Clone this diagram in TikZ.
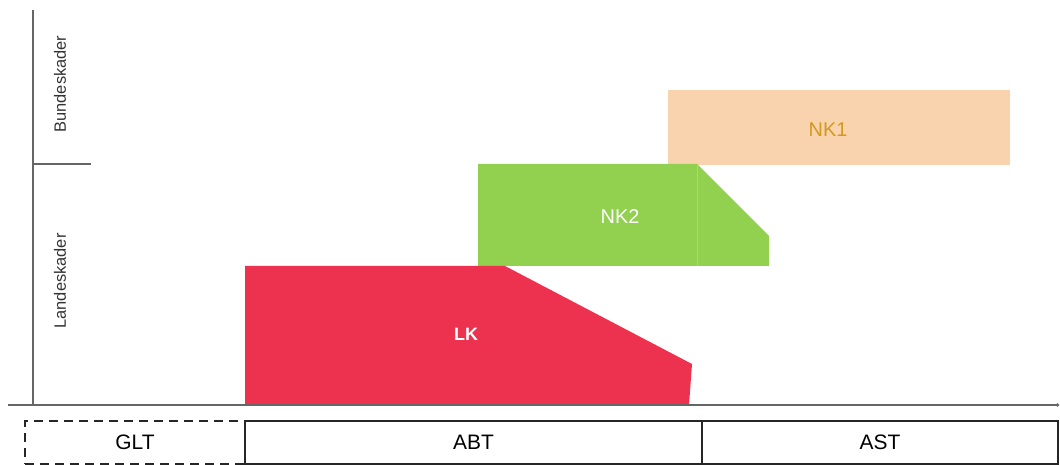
\documentclass[tikz,border=0pt]{standalone}
\usepackage{fontspec}
\setmainfont{Liberation Sans}
\usetikzlibrary{arrows.meta}
\definecolor{nkone}{HTML}{F8D3AE}
\definecolor{nkonetext}{HTML}{D19A1E}
\definecolor{nktwo}{HTML}{92D050}
\definecolor{lkred}{HTML}{EC324E}
\definecolor{axisgray}{HTML}{666666}
\tikzset{
  axis/.style={draw=axisgray, line width=1.3bp},
  phase/.style={draw=black!85, line width=1.6bp, minimum height=43bp, inner sep=0pt, font=\fontsize{21}{24}\selectfont},
  axlabel/.style={rotate=90, font=\fontsize{16.5}{19}\selectfont, text=black!80},
}
\begin{document}
\begin{tikzpicture}[x=1bp,y=-1bp]
\useasboundingbox (0,0) rectangle (1060,465);
% shapes
\fill[nkone] (668,90) rectangle (1010,165);
\node[text=nkonetext, font=\fontsize{20}{24}\selectfont] (nk1) at (828,130) {NK1};
\fill[nktwo] (478,164) -- (697,164) -- (769,236) -- (769,266) -- (478,266) -- cycle;
\draw[nktwo!80!white, line width=0.6bp] (697,165) -- (697,266);
\node[text=white, font=\fontsize{20}{24}\selectfont] (nk2) at (620,217) {NK2};
\fill[lkred] (245,266) -- (505,266) -- (692,364) -- (689,405) -- (245,405) -- cycle;
\node[text=white, font=\bfseries\fontsize{18}{22}\selectfont] (lk) at (466,334) {LK};
% axes
\coordinate (ytop) at (33,10);
\coordinate (ybot) at (33,405);
\coordinate (xl) at (8,405);
\coordinate (xr) at (1059,405);
\coordinate (tl) at (33,164);
\coordinate (tr) at (91,164);
\draw[axis] (ytop) -- (ybot);
\draw[axis, -{Circle[length=3bp]}] (xl) -- (xr);
\draw[axis] (tl) -- (tr);
\node[axlabel] (bund) at (60,84) {Bundeskader};
\node[axlabel] (land) at (60,281) {Landeskader};
% phase boxes
\node[phase, dashed, dash pattern=on 9bp off 6bp, line width=2bp, minimum width=220bp] (glt) at (135,442.5) {GLT};
\node[phase, minimum width=457bp] (abt) at (473.5,442.5) {ABT};
\node[phase, minimum width=356bp] (ast) at (880,442.5) {AST};
\end{tikzpicture}
\end{document}
